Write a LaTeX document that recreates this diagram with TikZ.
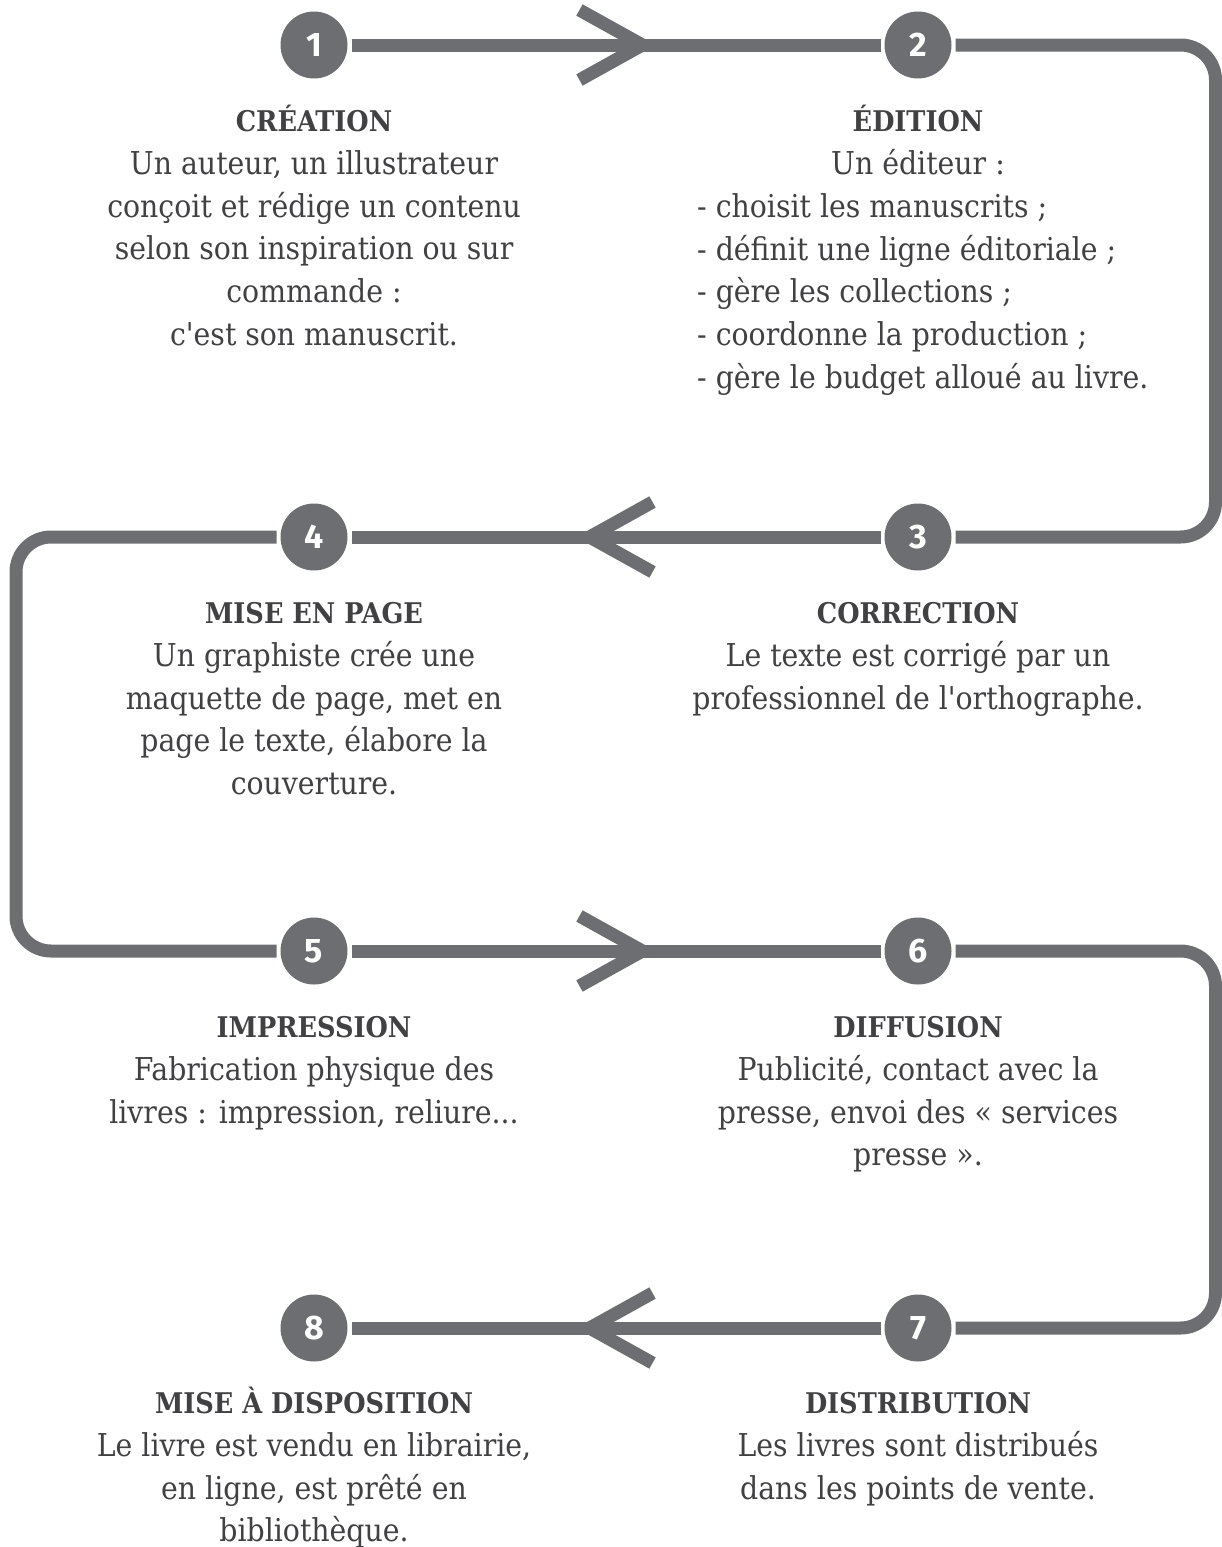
\documentclass[tikz,border=0pt]{standalone}
\usepackage{fontspec}
\setmainfont{DejaVu Serif Condensed}
\newfontfamily\numfont{Fira Sans}
\usetikzlibrary{calc, positioning, decorations.markings}

\definecolor{linegray}{HTML}{6D6E71}
\definecolor{txtgray}{HTML}{414042}

% fixed line height for every text line
\newcommand\linestrut{\rule[-12.7pt]{0pt}{42.7pt}}
\newcommand\steptitle[1]{\linestrut{\fontsize{28.5}{42.7}\selectfont\bfseries #1}}

\begin{document}
\begin{tikzpicture}[x=1pt, y=-1pt,
            num/.style={circle, fill=linegray, minimum size=67pt, inner sep=0pt,
                        outer sep=4pt, text=white,
                        font=\numfont\bfseries\fontsize{34}{34}\selectfont},
            flow/.style={draw=linegray, line width=13pt},
            fwd/.style={flow, postaction={decorate}, decoration={markings,
                        mark=at position 0.55 with
                        {\draw[flow] (-63pt,-35pt) -- (0pt,0pt) -- (-63pt,35pt);}}},
            txt/.style={align=center, text=txtgray, inner sep=0pt,
                        font=\fontsize{31.5}{42.7}\selectfont}
        ]
        \useasboundingbox (0,0) rectangle (1222,1547);

        % --- steps ---
        \node[num] (s1) at (314, 45) {1};
        \node[num] (s2) at (918, 45) {2};
        \node[num] (s3) at (918, 537) {3};
        \node[num] (s4) at (314, 537) {4};
        \node[num] (s5) at (314, 951) {5};
        \node[num] (s6) at (918, 951) {6};
        \node[num] (s7) at (918, 1328) {7};
        \node[num] (s8) at (314, 1328) {8};

        % corners of the track
        \coordinate (r1) at (1215.5, 45);
        \coordinate (r2) at (1215.5, 537);
        \coordinate (l1) at (16, 537);
        \coordinate (l2) at (16, 951);
        \coordinate (r3) at (1215.5, 951);
        \coordinate (r4) at (1215.5, 1328);
        \coordinate (lm) at (697, 0);

        % --- track ---
        \draw[fwd] (s1) -- (s2);
        \draw[flow, rounded corners=35pt] (s2) -- (r1) -- (r2) -- (s3);
        \draw[fwd] (s3) -- (s4);
        \draw[flow, rounded corners=35pt] (s4) -- (l1) -- (l2) -- (s5);
        \draw[fwd] (s5) -- (s6);
        \draw[flow, rounded corners=35pt] (s6) -- (r3) -- (r4) -- (s7);
        \draw[fwd] (s7) -- (s8);

        % --- texts ---
        \node[txt, below=19pt of s1] (cre) {\steptitle{CRÉATION}\\
            Un auteur, un illustrateur\\ conçoit et rédige un contenu\\
            selon son inspiration ou sur\\ commande :\\
            c\textquotesingle est son manuscrit.};
        \node[txt, below=19pt of s2] (edi) {\steptitle{ÉDITION}\\ Un éditeur :\linestrut};
        \node[txt, align=left, anchor=north west] (edil) at (edi.south -| lm)
            {\linestrut- choisit les manuscrits ;\\ - définit une ligne éditoriale ;\\
            - gère les collections ;\\ - coordonne la production ;\\
            - gère le budget alloué au livre.};
        \node[txt, below=19pt of s3] (cor) {\steptitle{CORRECTION}\\
            Le texte est corrigé par un\\
            professionnel de l\textquotesingle orthographe.};
        \node[txt, below=19pt of s4] (mep) {\steptitle{MISE EN PAGE}\\
            Un graphiste crée une\\ maquette de page, met en\\
            page le texte, élabore la\\ couverture.};
        \node[txt, below=19pt of s5] (imp) {\steptitle{IMPRESSION}\\
            Fabrication physique des\\ livres : impression, reliure...};
        \node[txt, below=19pt of s6] (dif) {\steptitle{DIFFUSION}\\
            Publicité, contact avec la\\ presse, envoi des « services\\ presse ».};
        \node[txt, below=18pt of s7] (dis) {\steptitle{DISTRIBUTION}\\
            Les livres sont distribués\\ dans les points de vente.};
        \node[txt, below=18pt of s8] (mad) {\steptitle{MISE À DISPOSITION}\\
            Le livre est vendu en librairie,\\ en ligne, est prêté en\\ bibliothèque.};
\end{tikzpicture}
\end{document}
